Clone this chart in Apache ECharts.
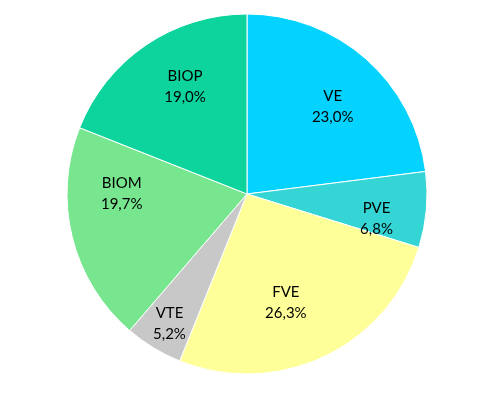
<!DOCTYPE html>
<html><head><meta charset="utf-8">
<script src="https://cdn.jsdelivr.net/npm/echarts@6/dist/echarts.min.js"></script>
<style>html,body{margin:0;padding:0;background:#fff}#c{width:490px;height:396px}</style>
</head><body><div id="c"></div>
<script>
const categories = ['VE', 'PVE', 'FVE', 'VTE', 'BIOM', 'BIOP'];
const values = [23.0, 6.8, 26.3, 5.2, 19.7, 19.0];
const colors = ['#05D3FF', '#36D5D5', '#FFFF99', '#C8C8C8', '#77E68E', '#0DD49C'];

// label nudges (best-fit placement of the original)
const labelNudge = { VE: [1, 9], PVE: [2, 13], FVE: [-16, -7], VTE: [-11, 20], BIOM: [-1, -31], BIOP: [10, -1] };

const data = categories.map((n, i) => ({ name: n, value: values[i] }));
const chart = echarts.init(document.getElementById('c'));
const fmt = p => p.name + '\n' + p.value.toFixed(1).replace('.', ',') + '%';
chart.setOption({
  animation: false,
  series: [
    {
      type: 'pie', center: [247, 194], radius: [0, 180], startAngle: 90, clockwise: true,
      data: data.map((d, i) => ({ ...d, itemStyle: { color: colors[i] } })),
      itemStyle: { borderColor: '#ffffff', borderWidth: 1 },
      label: { show: false }, labelLine: { show: false }, silent: true
    },
    {
      type: 'pie', center: [247, 194], radius: [0, 250], startAngle: 90, clockwise: true,
      data: data.map(d => ({ ...d, label: { offset: labelNudge[d.name] } })),
      itemStyle: { color: 'rgba(0,0,0,0)', borderWidth: 0 },
      label: { show: true, position: 'inside', formatter: fmt, color: '#000',
               fontFamily: 'Lato', fontSize: 15, lineHeight: 21 },
      labelLine: { show: false }, silent: true
    }
  ]
});
</script></body></html>
